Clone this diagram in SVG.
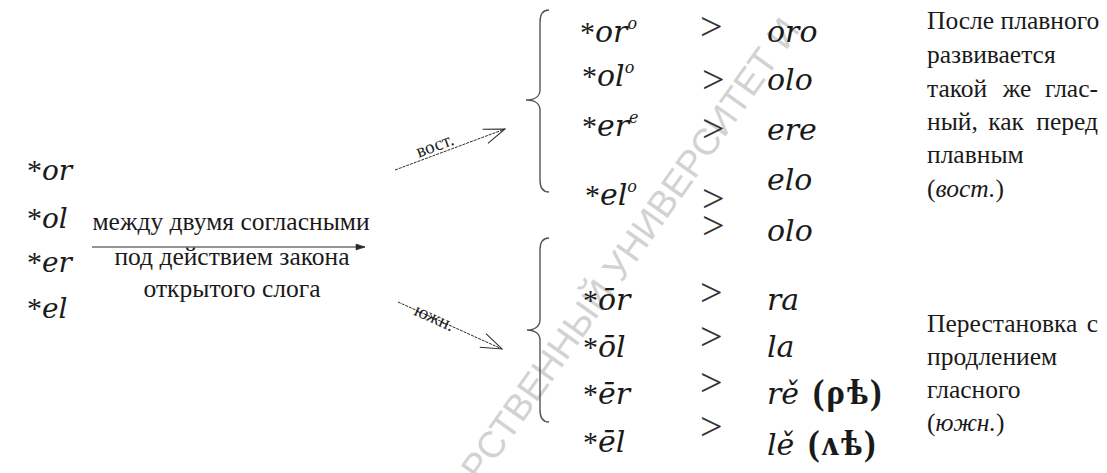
<svg xmlns="http://www.w3.org/2000/svg" width="1107" height="473" viewBox="0 0 1107 473">
  <style>
    .sym { font-family: "DejaVu Serif", "Liberation Serif", serif; font-style: italic; font-size: 28px; fill: #1a1a1a; }
    .big { font-size: 30px; }
    .ast { font-family: "Liberation Serif", serif; font-style: normal; font-size: 30px; }
    .sup { font-size: 16px; }
    .gt { font-family: "Liberation Serif", serif; font-size: 40px; fill: #333; }
    .note { font-family: "Liberation Serif", "DejaVu Serif", serif; font-size: 25.5px; fill: #1a1a1a; }
    .lbl { font-family: "Liberation Serif", serif; font-size: 19px; fill: #222; }
    .it { font-style: italic; }
    .old { font-family: "Liberation Serif", "DejaVu Serif", serif; font-style: normal; font-weight: bold; font-size: 35px; letter-spacing: 2px; }
    .brace { fill: none; stroke: #555; stroke-width: 1.4; }
    .arr { fill: none; stroke: #2a2a2a; stroke-width: 1; }
    .wm { font-family: "Liberation Sans", "DejaVu Sans", sans-serif; font-size: 37px; fill: #d2d2d2; }
    .end { text-anchor: end; }
    .mid { text-anchor: middle; }
  </style>
  <defs>
    <marker id="headBig" markerUnits="userSpaceOnUse" markerWidth="30" markerHeight="20" refX="0" refY="0" viewBox="-24 -10 26 20" orient="auto">
      <path d="M-21,-7.5 L0,0 L-21,7.5" fill="none" stroke="#2a2a2a" stroke-width="1"/>
    </marker>
    <marker id="headSmall" markerUnits="userSpaceOnUse" markerWidth="14" markerHeight="10" refX="0" refY="0" viewBox="-12 -5 13 10" orient="auto">
      <path d="M-9,-3 L0,0 L-9,3 Z" fill="#2a2a2a" stroke="#2a2a2a" stroke-width="0.6"/>
    </marker>
  </defs>

  <rect width="1107" height="473" fill="#ffffff"/>

  <!-- background watermark -->
  <text class="wm" transform="translate(480,483) rotate(-54.7)">РСТВЕННЫЙ УНИВЕРСИТЕТ И</text>

  <!-- source sequences -->
  <g id="source">
    <text class="sym" x="27" y="180"><tspan class="ast">*</tspan>or</text>
    <text class="sym" x="27" y="228"><tspan class="ast">*</tspan>ol</text>
    <text class="sym" x="27" y="272"><tspan class="ast">*</tspan>er</text>
    <text class="sym" x="27" y="318"><tspan class="ast">*</tspan>el</text>
  </g>

  <!-- condition caption -->
  <g id="condition">
    <text class="note mid" x="231" y="230">между двумя согласными</text>
    <text class="note mid" x="232" y="265">под действием закона</text>
    <text class="note mid" x="232" y="297">открытого слога</text>
  </g>

  <!-- connectors -->
  <g id="connectors">
    <line class="arr" x1="92" y1="247" x2="365" y2="247" marker-end="url(#headSmall)"/>
    <line class="arr" x1="395" y1="170" x2="505" y2="129" stroke-dasharray="3 1" marker-end="url(#headBig)"/>
    <line class="arr" x1="398" y1="302" x2="502" y2="349" stroke-dasharray="3 1" marker-end="url(#headBig)"/>
    <text class="lbl mid" transform="translate(437,151) rotate(-20.4)">вост.</text>
    <text class="lbl mid" transform="translate(432,323) rotate(24.3)">южн.</text>
  </g>

  <!-- East Slavic group -->
  <g id="east">
    <path class="brace" d="M549,10 C543,10 540,14 540,22 L540,90 C540,96 535,100 526,100 C535,100 540,104 540,110 L540,180 C540,188 543,192 549,192"/>
    <text class="sym big" x="580" y="42"><tspan class="ast">*</tspan>or<tspan class="sup" dy="-13">o</tspan></text>
    <text class="sym big" x="582" y="86"><tspan class="ast">*</tspan>ol<tspan class="sup" dy="-13">o</tspan></text>
    <text class="sym big" x="582" y="136"><tspan class="ast">*</tspan>er<tspan class="sup" dy="-13">e</tspan></text>
    <text class="sym big" x="585" y="205"><tspan class="ast">*</tspan>el<tspan class="sup" dy="-13">o</tspan></text>
    <text class="gt" x="700" y="40">&gt;</text>
    <text class="gt" x="702" y="93">&gt;</text>
    <text class="gt" x="702" y="142">&gt;</text>
    <text class="gt" x="702" y="212">&gt;</text>
    <text class="gt" x="702" y="239">&gt;</text>
    <text class="sym big" x="767" y="42">oro</text>
    <text class="sym big" x="767" y="90">olo</text>
    <text class="sym big" x="767" y="140">ere</text>
    <text class="sym big" x="767" y="190">elo</text>
    <text class="sym big" x="767" y="241">olo</text>
  </g>

  <!-- South Slavic group -->
  <g id="south">
    <path class="brace" d="M549,238 C543,238 540,242 540,250 L540,320 C540,326 535,330 527,330 C535,330 540,334 540,340 L540,410 C540,418 543,422 549,422"/>
    <text class="sym big" x="583" y="310"><tspan class="ast">*</tspan>ōr</text>
    <text class="sym big" x="583" y="357"><tspan class="ast">*</tspan>ōl</text>
    <text class="sym big" x="583" y="404"><tspan class="ast">*</tspan>ēr</text>
    <text class="sym big" x="583" y="452"><tspan class="ast">*</tspan>ēl</text>
    <text class="gt" x="700" y="306">&gt;</text>
    <text class="gt" x="700" y="350">&gt;</text>
    <text class="gt" x="700" y="396">&gt;</text>
    <text class="gt" x="700" y="440">&gt;</text>
    <text class="sym big" x="767" y="310">ra</text>
    <text class="sym big" x="767" y="357">la</text>
    <text class="sym big" x="767" y="404">rě <tspan class="old" dx="4">(ρѣ)</tspan></text>
    <text class="sym big" x="767" y="455">lě <tspan class="old" dx="4">(ʌѣ)</tspan></text>
  </g>

  <!-- explanatory notes -->
  <g id="note-east">
    <text class="note" x="927" y="29">После плавного</text>
    <text class="note" x="927" y="63">развивается</text>
    <text class="note" y="97"><tspan x="927">такой</tspan><tspan class="mid" x="1017">же</tspan><tspan class="end" x="1098">глас-</tspan></text>
    <text class="note" y="130"><tspan x="927">ный,</tspan><tspan class="mid" x="1006">как</tspan><tspan class="end" x="1098">перед</tspan></text>
    <text class="note" x="927" y="163">плавным</text>
    <text class="note" x="927" y="197">(<tspan class="it">вост.</tspan>)</text>
  </g>
  <g id="note-south">
    <text class="note" y="332"><tspan x="927">Перестановка</tspan><tspan class="end" x="1098">с</tspan></text>
    <text class="note" x="927" y="365">продлением</text>
    <text class="note" x="927" y="398">гласного</text>
    <text class="note" x="927" y="431">(<tspan class="it">южн.</tspan>)</text>
  </g>
</svg>
